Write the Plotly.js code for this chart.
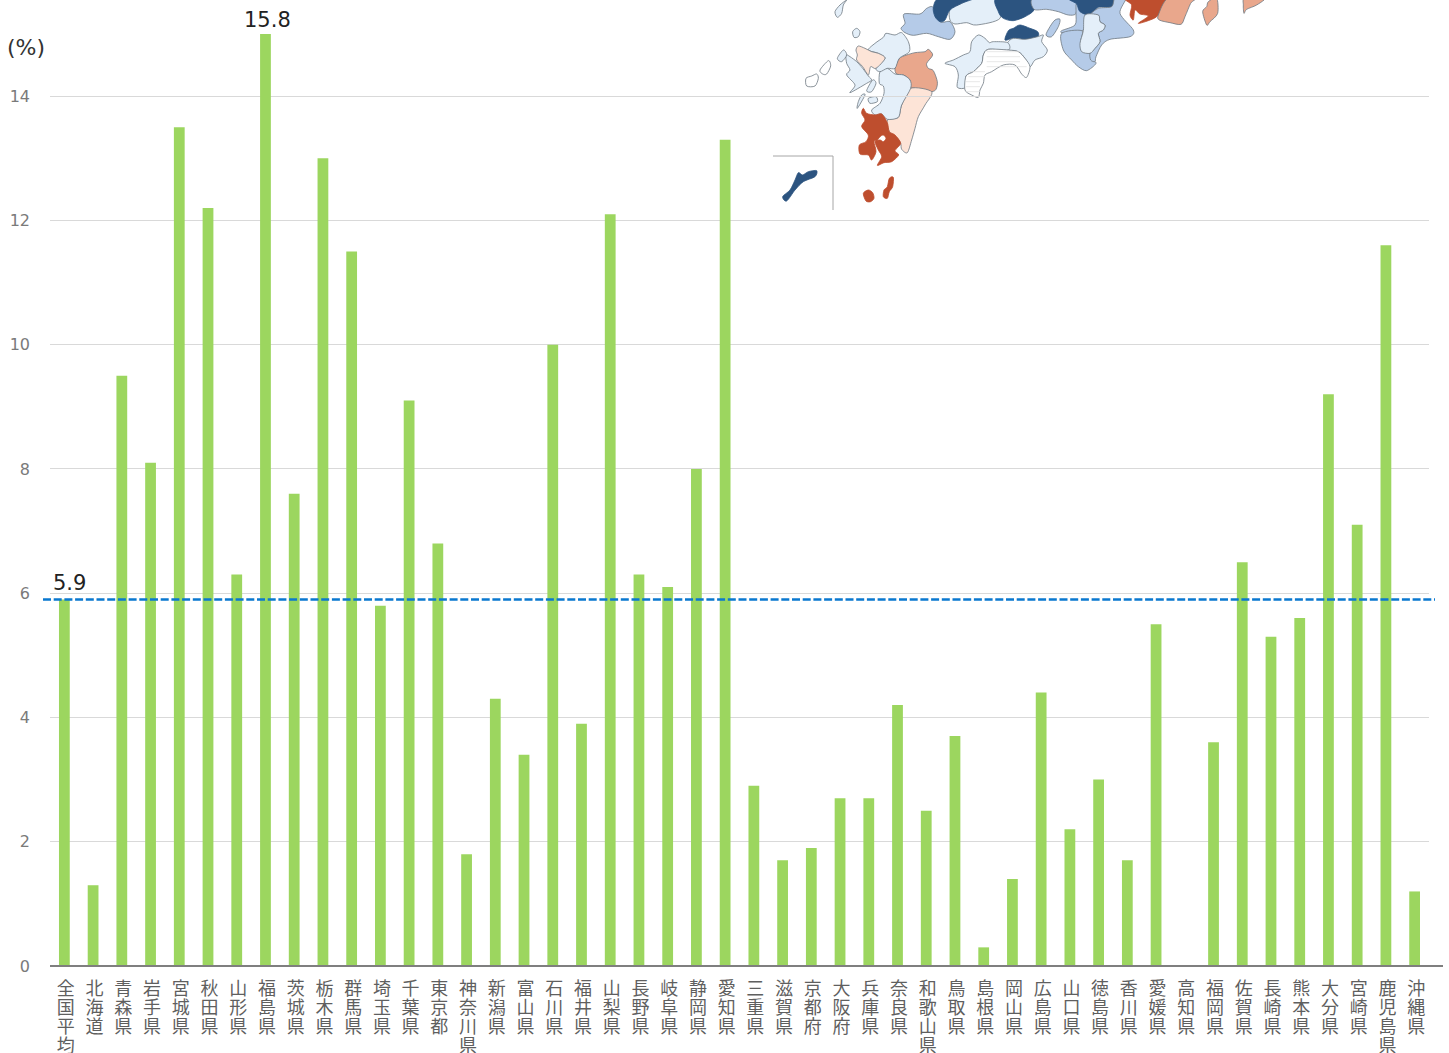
<!DOCTYPE html>
<html><head><meta charset="utf-8">
<script src="https://cdn.plot.ly/plotly-3.0.1.min.js"></script>
<style>html,body{margin:0;padding:0;background:#fff;overflow:hidden}</style>
</head><body><div id="chart" style="width:1449px;height:1053px"></div>
<script>
const categories = ["全国平均","北海道","青森県","岩手県","宮城県","秋田県","山形県","福島県","茨城県","栃木県","群馬県","埼玉県","千葉県","東京都","神奈川県","新潟県","富山県","石川県","福井県","山梨県","長野県","岐阜県","静岡県","愛知県","三重県","滋賀県","京都府","大阪府","兵庫県","奈良県","和歌山県","鳥取県","島根県","岡山県","広島県","山口県","徳島県","香川県","愛媛県","高知県","福岡県","佐賀県","長崎県","熊本県","大分県","宮崎県","鹿児島県","沖縄県"];
const values = [5.9,1.3,9.5,8.1,13.5,12.2,6.3,15.8,7.6,13.0,11.5,5.8,9.1,6.8,1.8,4.3,3.4,10.0,3.9,12.1,6.3,6.1,8.0,13.3,2.9,1.7,1.9,2.7,2.7,4.2,2.5,3.7,0.3,1.4,4.4,2.2,3.0,1.7,5.5,null,3.6,6.5,5.3,5.6,9.2,7.1,11.6,1.2];
const nationalAverage = 5.9;
const tickValues = [0,2,4,6,8,10,12,14];

// Decorative inset map (Kyushu / Shikoku / Kinki), traced outlines in page pixels
const DARK="#2c5480", BLUE="#b5cbe8", PALE="#e4eff9", RED="#be4e2e", SALMON="#e9a78c", PEACH="#fde4d7", WHITE="#ffffff";
const Z4=[800,0], Z1=[770,0], Z5=[930,0], Z6=[1070,0];
const mapPieces = [
 [Z1,BLUE,[393,85,405,70,402,42,450,42,470,25,490,22,510,65,540,65,555,95,540,118,505,110,470,100,430,106,405,98]],
 [Z1,PALE,[540,28,575,10,610,-6,682,-6,690,55,620,75,590,68,555,72,540,60]],
 [Z1,DARK,[490,22,510,-6,610,-6,575,10,540,30,525,60,510,65,495,50]],
 [Z5,DARK,[200,-6,312,-6,312,30,285,50,250,62,220,55,205,35]],
 [Z5,BLUE,[312,-6,432,-6,438,40,415,45,385,35,350,28,312,28]],
 [Z5,BLUE,[440,10,465,15,470,45,460,90,400,98,395,92,435,75,438,40]],
 [Z6,DARK,[0,-6,135,-6,125,20,85,22,60,45,30,35,20,12]],
 [Z5,BLUE,[395,100,455,92,452,125,460,155,485,160,482,175,498,190,470,212,445,200,425,180,400,150]],
 [Z6,BLUE,[85,25,125,20,135,-6,168,-6,150,40,190,90,180,110,120,118,95,135,78,170,75,185,62,180,60,160,75,145,90,125,85,100,100,90,105,75,90,65,85,45,60,45]],
 [Z6,PALE,[45,45,85,45,90,65,105,75,100,90,85,100,90,125,75,145,60,160,35,155,30,130,40,92]],
 [Z6,RED,[168,-6,290,-6,265,45,240,60,205,70,235,48,210,42,195,30,190,60,180,45,185,15]],
 [Z6,SALMON,[295,-6,375,-6,362,10,345,50,333,73,300,68,268,60,265,45]],
 [Z6,SALMON,[415,5,440,-6,443,40,420,65,410,75,398,35,410,20]],
 [Z6,SALMON,[525,-6,585,-6,560,15,530,28,522,40,520,15]],
 [Z5,BLUE,[375,60,390,58,385,80,365,110,348,105,360,80]],
 [Z5,DARK,[225,120,235,92,250,85,270,75,300,85,323,95,323,110,285,118,250,115]],
 [Z5,PALE,[233,128,250,115,285,118,323,110,340,105,335,125,352,150,340,170,315,180,300,200,285,175,265,155,235,150]],
 [Z5,PALE,[45,190,70,180,100,165,120,155,125,125,145,105,165,115,178,128,190,125,233,128,235,150,175,148,160,165,155,190,130,215,108,228,108,262,82,262,85,225,75,200]],
 [Z5,WHITE,[160,165,175,148,235,150,265,155,285,175,300,200,290,232,275,222,255,195,220,195,185,215,165,225,160,250,150,270,145,292,125,285,105,270,108,228,130,215,155,190]],
 [Z4,SALMON,[345,158,375,155,385,148,398,165,380,190,385,205,400,212,412,245,408,268,395,275,365,275,345,265,332,263,330,240,310,225,290,222,285,205,298,175,320,165]],
 [Z4,PEACH,[332,265,395,275,375,315,355,350,345,385,335,420,322,458,305,448,302,430,290,412,268,395,262,360,295,352,305,315]],
 [Z4,PALE,[240,215,262,205,285,222,310,225,330,240,332,265,305,315,295,352,262,358,245,342,225,345,215,330,240,310,252,280,250,258,238,250]],
 [Z4,PALE,[205,150,225,130,250,112,258,100,285,105,305,98,325,125,328,155,298,175,285,205,262,205,240,215,228,205,255,175,235,160]],
 [Z4,PEACH,[168,150,175,138,195,145,215,155,235,160,255,175,228,205,212,200,205,225,188,200,170,180,172,165]],
 [Z4,PALE,[138,165,150,170,170,185,188,205,205,228,215,240,200,250,150,278,165,255,140,225,150,210,140,190]],
 [Z4,PALE,[200,272,218,240,228,250,215,275]],
 [Z4,PALE,[195,285,172,325,175,305,185,285]],
 [Z4,PALE,[205,295,228,290,232,305,210,310]],
 [Z4,PALE,[105,35,120,15,140,0,130,15,125,40,112,52]],
 [Z4,PALE,[158,95,170,85,180,95,175,110,162,112]],
 [Z4,WHITE,[18,235,35,228,50,222,55,235,45,258,20,258]],
 [Z4,WHITE,[60,210,85,182,92,198,80,222,68,222]],
 [Z4,PALE,[112,175,130,150,140,165,125,185]],
 [Z4,RED,[190,325,200,340,225,345,245,342,262,368,268,395,285,405,302,430,285,452,296,465,275,485,252,488,232,496,245,470,235,450,225,425,240,420,250,425,258,415,250,405,240,410,232,420,222,425,228,455,215,480,205,465,180,462,178,435,198,425,205,405,185,380,195,360,185,340]],
 [Z4,RED,[190,580,205,570,218,578,222,595,212,605,198,603]],
 [Z4,RED,[268,535,280,532,278,560,268,575,262,595,250,590,252,570,262,560]],
 [Z1,DARK,[38,590,60,570,75,540,85,518,98,525,115,515,140,512,135,530,100,545,75,570,50,603]]
];
const hatchRows = [155,170,185,200,215,230,245,260,275];

const L=50, R=20, T=34, B=87, W=1449, H=1053;
const pw=W-L-R, ph=H-T-B;
const px=x=>(x-L)/pw, py=y=>1-(y-T)/ph;

function piecePath(p){
  const [o,,pts]=p, n=pts.length/2, k=1/7;
  const P=i=>{const j=((i%n)+n)%n;return [px(o[0]+pts[2*j]/3),py(o[1]+pts[2*j+1]/3)];};
  const f=v=>v.toFixed(5);
  let d="M"+f(P(0)[0])+" "+f(P(0)[1]);
  for(let i=0;i<n;i++){
    const a=P(i-1),b=P(i),c=P(i+1),e=P(i+2);
    d+="C"+f(b[0]+(c[0]-a[0])*k)+" "+f(b[1]+(c[1]-a[1])*k)+" "+f(c[0]-(e[0]-b[0])*k)+" "+f(c[1]-(e[1]-b[1])*k)+" "+f(c[0])+" "+f(c[1]);
  }
  return d+"Z";
}
const shapes=[
 {type:"rect",layer:"below",xref:"paper",yref:"paper",x0:px(773),x1:px(1449),y0:py(210),y1:py(-5),fillcolor:"#fff",line:{width:0}}
];
mapPieces.forEach(p=>shapes.push({type:"path",layer:"below",xref:"paper",yref:"paper",path:piecePath(p),
  fillcolor:p[1],line:{color:p[1]===DARK||p[1]===RED?p[1]:"#6f7882",width:0.8}}));
let hatch="";
hatchRows.forEach(y=>{hatch+="M"+px(930+ (y<215?170:y<235?115:108)/3).toFixed(5)+" "+py(y/3).toFixed(5)+"L"+px(930+(y<190?270:y<215?290:y<235?165:150)/3).toFixed(5)+" "+py(y/3).toFixed(5);});
shapes.push({type:"path",layer:"below",xref:"paper",yref:"paper",path:hatch,line:{color:"#e0e0e0",width:0.7}});
shapes.push({type:"path",layer:"below",xref:"paper",yref:"paper",
  path:"M"+px(773)+" "+py(156)+"L"+px(833)+" "+py(156)+"L"+px(833)+" "+py(210),line:{color:"#a6a6a6",width:1}});
shapes.push({type:"line",layer:"above",xref:"paper",yref:"paper",x0:0,x1:px(1443),y0:0,y1:0,line:{color:"#7f7f7f",width:2}});
shapes.push({type:"line",layer:"above",xref:"paper",yref:"y",x0:px(43),x1:px(1435),y0:nationalAverage,y1:nationalAverage,
  line:{color:"#0a78cf",width:2.5,dash:"8px,2.7px"}});

const annoFont={family:"DejaVu Sans, Verdana, sans-serif",size:21,color:"#222"};
const data=[{type:"bar",x:categories,y:values,marker:{color:"#9cd65f",line:{width:0}},hoverinfo:"x+y"}];
const layout={
 width:W,height:H,margin:{l:L,r:R,t:T,b:B,pad:0},paper_bgcolor:"#fff",plot_bgcolor:"#fff",
 showlegend:false,bargap:0.625,
 xaxis:{type:"category",tickmode:"array",tickvals:categories,ticktext:categories.map(c=>[...c].join("<br>")),
   tickangle:0,ticks:"",showline:false,showgrid:false,zeroline:false,automargin:false,ticklabelstandoff:10,
   tickfont:{family:"Noto Sans CJK JP, sans-serif",size:18,color:"#5f5f5f"}},
 yaxis:{range:[0,15],tickmode:"array",tickvals:tickValues,ticks:"",showline:false,zeroline:false,
   gridcolor:"#d9d9d9",gridwidth:1,ticklabelstandoff:19,automargin:false,
   tickfont:{family:"DejaVu Sans, Verdana, sans-serif",size:16,color:"#7a7a7a"}},
 shapes:shapes,
 annotations:[
  {xref:"x",yref:"y",x:categories[7],y:15,text:String(values[7]),showarrow:false,yanchor:"bottom",xshift:2,yshift:0,font:annoFont},
  {xref:"x",yref:"y",x:categories[0],y:nationalAverage,text:String(nationalAverage),showarrow:false,yanchor:"bottom",xshift:5,yshift:2,font:annoFont},
  {xref:"paper",yref:"paper",x:px(26),y:py(47),text:"(%)",showarrow:false,xanchor:"center",yanchor:"middle",
   font:{family:annoFont.family,size:22,color:"#333"}}
 ]
};
Plotly.newPlot("chart",data,layout,{displayModeBar:false}).then(gd=>{
  gd.querySelectorAll(".xtick text").forEach(t=>{
    t.querySelectorAll("tspan.line").forEach((s,i)=>{s.setAttribute("dy",(i*19)+"px");});
    const tr=t.getAttribute("transform")||"";
    t.setAttribute("transform",(tr+" translate(1.5,0)").trim());
  });
});
</script></body></html>
